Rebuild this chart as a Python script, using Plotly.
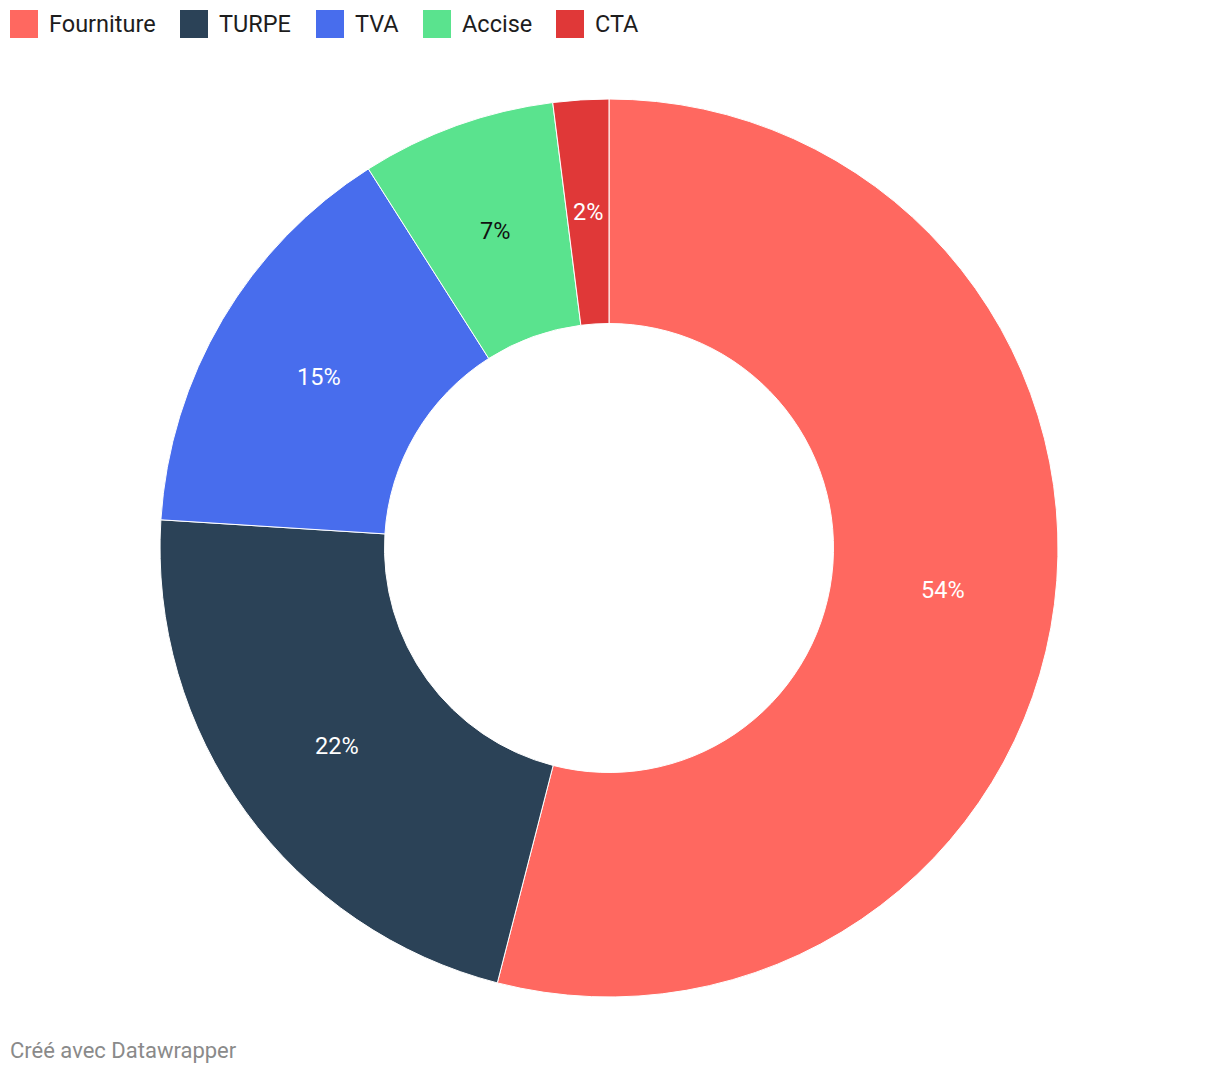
import math
import plotly.graph_objects as go

categories = ["Fourniture", "TURPE", "TVA", "Accise", "CTA"]
values = [54, 22, 15, 7, 2]
colors = ["#ff6860", "#2b4257", "#486ded", "#5ae38e", "#e03838"]
label_colors = ["#ffffff", "#ffffff", "#ffffff", "#111111", "#ffffff"]

W, H = 1220, 1074
cx, cy, R = 609, 548, 449
HOLE = 0.5

fig = go.Figure(go.Pie(
    labels=categories,
    values=values,
    sort=False,
    direction="clockwise",
    rotation=0,
    hole=HOLE,
    marker=dict(colors=colors, line=dict(color="#ffffff", width=1)),
    textinfo="none",
    domain=dict(x=[(cx - R) / W, (cx + R) / W], y=[1 - (cy + R) / H, 1 - (cy - R) / H]),
    showlegend=False,
    hoverinfo="label+percent",
))

annotations = []
# percentage labels placed at the middle of the ring, computed from the values
total = sum(values)
rmid = R * (1 + HOLE) / 2
cum = 0.0
for v, col in zip(values, label_colors):
    mid = (cum + v / 2) / total * 2 * math.pi
    cum += v
    px = cx + rmid * math.sin(mid)
    py = cy - rmid * math.cos(mid)
    annotations.append(dict(xref="paper", yref="paper", x=px / W, y=1 - py / H,
                            xanchor="center", yanchor="middle", showarrow=False,
                            text=f"{round(v / total * 100)}%",
                            font=dict(family="Roboto", size=23.5, color=col)))

# custom legend (square swatches + labels)
legend_x = [10, 180, 316, 423, 556]
shapes = []
for x0, name, col in zip(legend_x, categories, colors):
    shapes.append(dict(type="rect", xref="paper", yref="paper",
                       x0=x0 / W, x1=(x0 + 28) / W, y0=1 - 38 / H, y1=1 - 10 / H,
                       fillcolor=col, line=dict(width=0)))
    annotations.append(dict(xref="paper", yref="paper", x=(x0 + 37) / W, y=1 - 24 / H,
                            xanchor="left", yanchor="middle", showarrow=False,
                            text=name, font=dict(family="Roboto", size=23.5, color="#1d1d1d")))

annotations.append(dict(xref="paper", yref="paper", x=8 / W, y=1 - 1050 / H,
                        xanchor="left", yanchor="middle", showarrow=False,
                        text="Créé avec Datawrapper",
                        font=dict(family="Roboto", size=22, color="#8a8a8a")))

fig.update_layout(
    width=W, height=H,
    margin=dict(l=0, r=0, t=0, b=0),
    paper_bgcolor="#ffffff", plot_bgcolor="#ffffff",
    shapes=shapes, annotations=annotations,
    font=dict(family="Roboto"),
)

fig.write_html("out.html")
